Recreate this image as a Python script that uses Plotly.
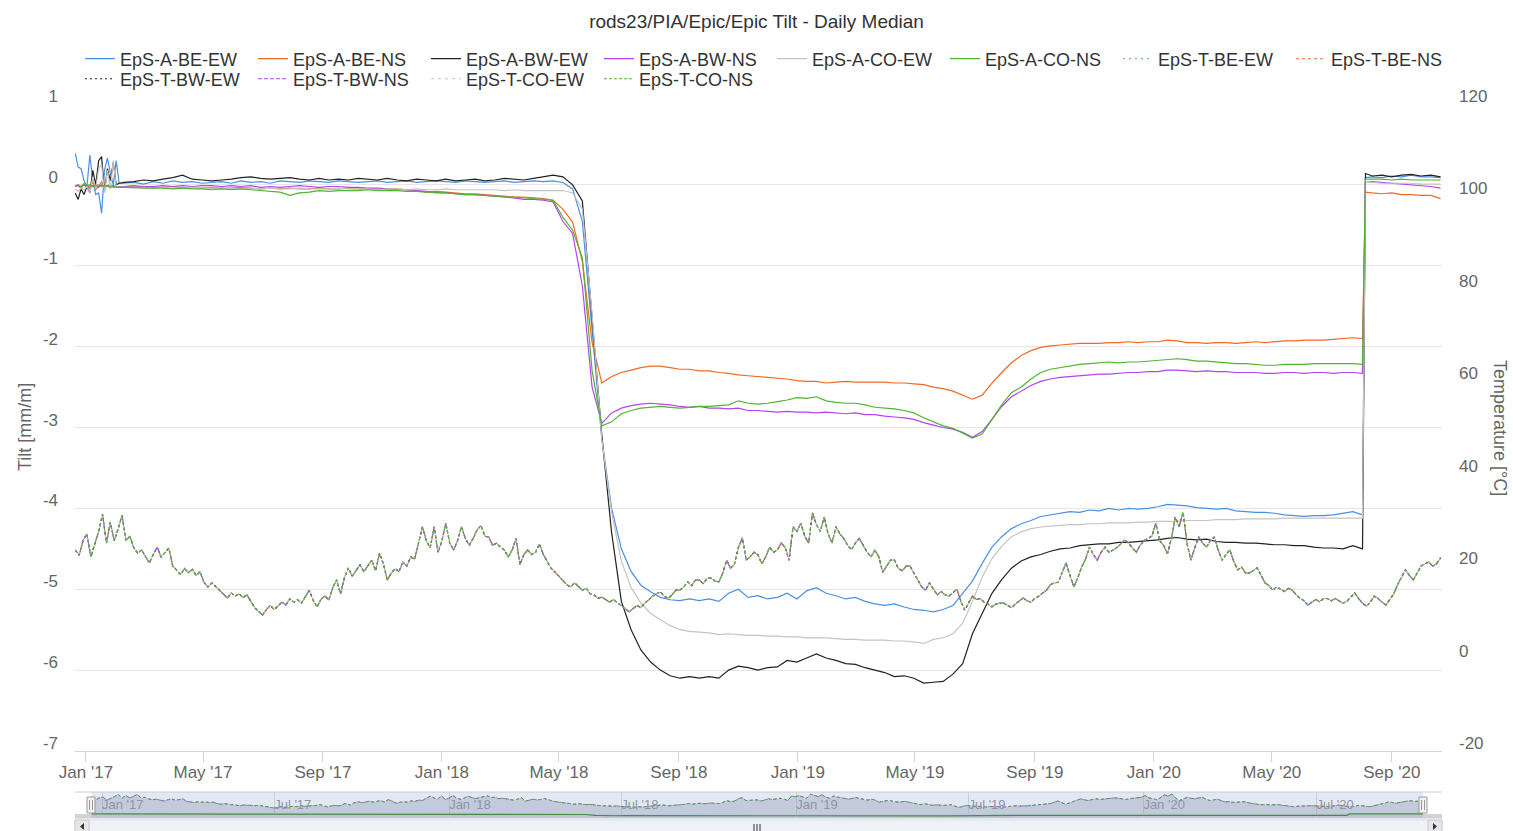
import pandas as pd
import plotly.graph_objects as go

# ---------------- categories (day offsets from the first date) ----------------
START_DATE = "2016-12-21"
a_day_offsets = list(range(0, 46, 3)) + list(range(50, 1321, 10)) + [1323] + list(range(1330, 1401, 10))
t_day_offsets = list(range(0, 1401, 4))

# ---------------- axis tick labels ----------------
tilt_ticks = [-7, -6, -5, -4, -3, -2, -1, 0, 1]
tilt_tick_text = ["-7", "-6", "-5", "-4", "-3", "-2", "-1", "0", "1"]
temp_ticks = [-20, 0, 20, 40, 60, 80, 100, 120]
temp_tick_text = ["-20", "0", "20", "40", "60", "80", "100", "120"]

# ---------------- tilt series [mm/m] (left axis) ----------------
a_be_ew = [0.39, 0.22, 0.20, 0.05, -0.02, 0.37, 0.05, -0.12, -0.10, -0.35, 0.18, 0.33, 0.15, 0.00, 0.30, 0.02,
           0.02, 0.03, 0.01, 0.04, 0.02, 0.05, 0.03, 0.04, 0.02, 0.03, 0.04, 0.02, 0.05, 0.03, 0.04, 0.02, 0.05, 0.04, 0.03, 0.05,
           0.04, 0.03, 0.05, 0.04, 0.03, 0.04, 0.05, 0.03, 0.04, 0.05, 0.03, 0.04, 0.05, 0.04, 0.03, 0.05, 0.04, 0.03, 0.04, 0.05,
           0.03, 0.04, 0.05, 0.04, 0.05,
           0.03, -0.05, -0.45, -1.75, -3.15, -4.00, -4.50, -4.78, -4.95, -5.03,
           -5.10, -5.13, -5.14, -5.12, -5.14, -5.12, -5.15, -5.05, -5.00, -5.10,
           -5.08, -5.12, -5.10, -5.05, -5.12, -5.02, -4.98, -5.05, -5.08, -5.12,
           -5.10, -5.15, -5.18, -5.20, -5.18, -5.22, -5.25, -5.26, -5.28, -5.25,
           -5.20, -5.05, -4.90, -4.68, -4.48, -4.35, -4.25, -4.19, -4.15, -4.10,
           -4.08, -4.06, -4.04, -4.05, -4.02, -4.03, -4.00, -4.02, -4.00, -4.01,
           -4.00, -3.98, -3.95, -3.96, -3.97, -3.99, -4.00, -4.01, -4.00, -4.03,
           -4.04, -4.05, -4.05, -4.06, -4.08, -4.09, -4.10, -4.09, -4.09, -4.08,
           -4.06, -4.04, -4.08,
           0.09, 0.10, 0.09, 0.11, 0.10, 0.12, 0.10, 0.10, 0.09]

a_be_ns = [-0.02, 0.00, -0.05, 0.02, -0.04, -0.01, 0.03, -0.06, -0.02, 0.04, -0.03, -0.01, 0.00, -0.03, -0.02, -0.02,
           -0.02, -0.03, -0.02, -0.03, -0.03, -0.02, -0.04, -0.03, -0.04, -0.03, -0.04, -0.04, -0.03, -0.04, -0.05,
           -0.04, -0.05, -0.04, -0.05, -0.05, -0.04, -0.05, -0.05, -0.04, -0.05, -0.05, -0.06, -0.05, -0.05, -0.06,
           -0.07, -0.09, -0.08, -0.09, -0.10, -0.11, -0.11, -0.12, -0.13, -0.14, -0.15, -0.15, -0.16, -0.17, -0.19,
           -0.30, -0.46, -0.95, -1.95, -2.45, -2.37, -2.32, -2.29, -2.26, -2.24,
           -2.24, -2.26, -2.28, -2.28, -2.30, -2.30, -2.32, -2.33, -2.35, -2.36,
           -2.37, -2.38, -2.39, -2.40, -2.42, -2.43, -2.43, -2.45, -2.44, -2.43,
           -2.44, -2.44, -2.44, -2.44, -2.45, -2.45, -2.46, -2.47, -2.50, -2.52,
           -2.55, -2.60, -2.65, -2.60, -2.45, -2.32, -2.20, -2.11, -2.05, -2.01,
           -1.99, -1.98, -1.97, -1.96, -1.96, -1.96, -1.95, -1.95, -1.94, -1.95,
           -1.94, -1.94, -1.92, -1.93, -1.95, -1.95, -1.96, -1.95, -1.95, -1.96,
           -1.95, -1.94, -1.95, -1.94, -1.93, -1.93, -1.92, -1.92, -1.92, -1.91,
           -1.90, -1.89, -1.90,
           -0.09, -0.10, -0.11, -0.10, -0.12, -0.12, -0.13, -0.13, -0.17]

a_bw_ew = [-0.10, -0.18, -0.05, -0.12, -0.02, -0.10, 0.18, 0.00, 0.30, 0.35, -0.08, 0.20, 0.05, 0.28, 0.00, 0.02,
           0.03, 0.04, 0.06, 0.05, 0.07, 0.09, 0.12, 0.07, 0.06, 0.05, 0.06, 0.07, 0.09, 0.10, 0.08,
           0.07, 0.08, 0.09, 0.07, 0.06, 0.08, 0.06, 0.07, 0.06, 0.08, 0.07, 0.06, 0.08, 0.06, 0.05,
           0.07, 0.06, 0.05, 0.07, 0.05, 0.06, 0.07, 0.05, 0.06, 0.08, 0.07, 0.06, 0.08, 0.10, 0.12,
           0.10, 0.00, -0.20, -1.60, -3.10, -4.30, -5.15, -5.50, -5.75, -5.90,
           -6.00, -6.07, -6.10, -6.08, -6.10, -6.08, -6.10, -6.00, -5.95, -5.97,
           -6.00, -5.97, -5.96, -5.88, -5.90, -5.85, -5.80, -5.85, -5.88, -5.92,
           -5.93, -5.97, -6.00, -6.03, -6.08, -6.07, -6.10, -6.16, -6.15, -6.14,
           -6.05, -5.92, -5.55, -5.30, -5.05, -4.88, -4.74, -4.65, -4.60, -4.57,
           -4.53, -4.50, -4.49, -4.46, -4.45, -4.44, -4.44, -4.42, -4.42, -4.41,
           -4.40, -4.39, -4.37, -4.36, -4.38, -4.39, -4.38, -4.41, -4.42, -4.42,
           -4.43, -4.43, -4.44, -4.45, -4.45, -4.46, -4.46, -4.48, -4.49, -4.49,
           -4.50, -4.46, -4.50,
           0.14, 0.11, 0.12, 0.10, 0.12, 0.13, 0.11, 0.12, 0.10]

a_bw_ns = [-0.02, -0.01, -0.03, 0.00, -0.02, -0.04, -0.01, -0.02, -0.03, 0.00, -0.02, -0.01, -0.02, -0.01, -0.02, -0.02,
           -0.02, -0.01, -0.02, -0.02, -0.01, -0.02, -0.01, -0.02, -0.01, -0.01, -0.02, -0.01, -0.02, -0.01, -0.03,
           -0.02, -0.03, -0.02, -0.01, -0.02, -0.03, -0.02, -0.02, -0.03, -0.03, -0.04, -0.04, -0.05, -0.06, -0.06,
           -0.07, -0.08, -0.10, -0.10, -0.11, -0.12, -0.12, -0.13, -0.14, -0.15, -0.16, -0.18, -0.18, -0.19, -0.21,
           -0.45, -0.60, -1.25, -2.50, -2.95, -2.82, -2.76, -2.73, -2.71, -2.70,
           -2.71, -2.72, -2.74, -2.75, -2.74, -2.76, -2.76, -2.77, -2.76, -2.79,
           -2.79, -2.80, -2.81, -2.80, -2.81, -2.81, -2.82, -2.81, -2.82, -2.83,
           -2.82, -2.84, -2.84, -2.86, -2.87, -2.88, -2.90, -2.94, -2.97, -3.00,
           -3.02, -3.06, -3.12, -3.05, -2.90, -2.74, -2.62, -2.55, -2.48, -2.43,
           -2.40, -2.38, -2.37, -2.36, -2.35, -2.34, -2.34, -2.33, -2.32, -2.32,
           -2.31, -2.31, -2.29, -2.29, -2.30, -2.31, -2.30, -2.31, -2.31, -2.32,
           -2.32, -2.32, -2.33, -2.33, -2.32, -2.32, -2.33, -2.32, -2.32, -2.33,
           -2.32, -2.32, -2.33,
           0.03, 0.04, 0.03, 0.02, 0.01, 0.00, -0.01, -0.02, -0.04]

a_co_ew = [-0.05, -0.08, -0.04, -0.06, -0.02, -0.10, 0.10, -0.05, 0.20, 0.25, -0.10, 0.18, -0.05, 0.30, -0.02, -0.03,
           -0.03, -0.04, -0.03, -0.04, -0.03, -0.04, -0.04, -0.03, -0.04, -0.04, -0.04, -0.05, -0.04, -0.04, -0.05,
           -0.04, -0.05, -0.05, -0.04, -0.05, -0.05, -0.05, -0.04, -0.05, -0.05, -0.05, -0.06, -0.05, -0.05, -0.06,
           -0.05, -0.06, -0.06, -0.05, -0.06, -0.06, -0.06, -0.06, -0.06, -0.07, -0.06, -0.07, -0.07, -0.07, -0.07,
           -0.07, -0.10, -0.30, -1.60, -3.15, -4.05, -4.65, -4.98, -5.17, -5.30,
           -5.38, -5.45, -5.50, -5.52, -5.53, -5.54, -5.56, -5.55, -5.56, -5.57,
           -5.57, -5.58, -5.58, -5.59, -5.59, -5.60, -5.60, -5.60, -5.61, -5.62,
           -5.62, -5.63, -5.63, -5.63, -5.64, -5.64, -5.65, -5.67, -5.62, -5.60,
           -5.55, -5.42, -5.15, -4.85, -4.62, -4.47, -4.35, -4.29, -4.25, -4.23,
           -4.22, -4.21, -4.20, -4.20, -4.19, -4.19, -4.18, -4.18, -4.18, -4.17,
           -4.17, -4.16, -4.16, -4.16, -4.15, -4.15, -4.15, -4.14, -4.14, -4.14,
           -4.13, -4.13, -4.13, -4.13, -4.12, -4.12, -4.12, -4.12, -4.12, -4.12,
           -4.12, -4.12, -4.12,
           0.03, 0.03, 0.02, 0.02, 0.02, 0.02, 0.01, 0.01, 0.01]

a_co_ns = [-0.01, 0.00, -0.02, 0.01, -0.01, 0.00, -0.02, -0.01, 0.00, -0.02, -0.01, -0.02, -0.03, -0.02, -0.03, -0.03,
           -0.03, -0.03, -0.04, -0.04, -0.04, -0.05, -0.04, -0.05, -0.05, -0.06, -0.05, -0.06, -0.05, -0.06, -0.07,
           -0.08, -0.09, -0.13, -0.10, -0.09, -0.07, -0.08, -0.07, -0.07, -0.07, -0.06, -0.07, -0.07, -0.07, -0.08,
           -0.08, -0.09, -0.09, -0.10, -0.11, -0.12, -0.12, -0.13, -0.14, -0.15, -0.15, -0.16, -0.17, -0.18, -0.19,
           -0.40, -0.56, -0.90, -2.30, -2.98, -2.93, -2.83, -2.79, -2.76, -2.75,
           -2.74, -2.75, -2.76, -2.75, -2.74, -2.74, -2.73, -2.72, -2.67, -2.70,
           -2.71, -2.70, -2.68, -2.66, -2.63, -2.64, -2.62, -2.67, -2.69, -2.70,
           -2.70, -2.72, -2.75, -2.76, -2.77, -2.79, -2.82, -2.88, -2.93, -2.98,
           -3.01, -3.07, -3.13, -3.08, -2.90, -2.72, -2.57, -2.50, -2.40, -2.32,
           -2.28, -2.26, -2.24, -2.22, -2.21, -2.20, -2.19, -2.20, -2.19, -2.19,
           -2.18, -2.17, -2.16, -2.15, -2.16, -2.18, -2.18, -2.19, -2.20, -2.21,
           -2.21, -2.22, -2.23, -2.23, -2.22, -2.22, -2.22, -2.21, -2.21, -2.21,
           -2.21, -2.21, -2.22,
           0.07, 0.07, 0.07, 0.06, 0.07, 0.06, 0.06, 0.06, 0.06]

# ---------------- temperature [°C] (right axis), every 4 days; the six T sensors overlap ----------------
temperature_c = [
    23.5, 22.4, 25.5, 27.0, 22.0, 24.5, 27.5, 31.2, 25.0, 29.5,
    25.5, 28.0, 31.0, 25.5, 26.5, 24.0, 22.8, 23.5, 22.0, 20.7,
    22.5, 24.1, 22.0, 23.0, 23.9, 20.0, 19.0, 18.2, 19.5, 18.6,
    19.3, 18.0, 18.8, 16.5, 15.5, 16.4, 15.6, 14.8, 14.0, 13.1,
    14.2, 13.5, 14.0, 13.2, 13.8, 12.4, 11.0, 10.2, 9.4, 10.6,
    11.5, 10.6, 11.4, 12.2, 11.6, 12.9, 12.2, 12.7, 12.0, 13.5,
    14.8, 12.6, 11.2, 12.8, 13.6, 12.6, 15.3, 17.0, 14.0, 17.5,
    19.6, 17.8, 19.0, 20.3, 18.8, 20.0, 21.3, 19.0, 22.8, 20.5,
    17.0, 18.5, 19.5, 18.8, 20.9, 20.0, 22.0, 21.5, 25.0, 28.5,
    25.5, 24.0, 28.5, 23.0, 25.5, 29.3, 25.0, 23.5, 25.5, 28.5,
    26.0, 24.5, 26.0, 27.8, 28.8, 26.5, 26.3, 24.5, 25.0, 24.1,
    23.5, 22.0, 23.5, 26.0, 20.3, 22.5, 23.5, 22.5, 23.0, 24.8,
    22.5, 20.9, 19.5, 18.7, 17.8, 17.0, 16.0, 15.5, 16.4, 15.6,
    14.8, 15.2, 14.0, 13.8, 13.0, 13.3, 12.8, 12.2, 12.8, 12.0,
    11.5, 10.8, 10.1, 10.8, 11.5, 11.0, 12.0, 12.7, 13.5, 14.0,
    14.4, 13.5, 13.0, 13.8, 14.8, 14.8, 15.5, 16.6, 15.8, 17.0,
    17.0, 16.2, 17.4, 17.4, 16.8, 16.6, 18.5, 21.3, 19.5, 20.5,
    24.0, 26.1, 21.3, 22.0, 23.0, 22.5, 20.5, 22.0, 24.1, 23.0,
    23.5, 25.0, 24.0, 21.3, 28.5, 27.5, 29.3, 26.5, 25.0, 31.5,
    29.0, 27.5, 30.6, 27.0, 25.0, 28.5, 27.0, 26.0, 24.5, 23.5,
    25.0, 26.0, 24.5, 23.0, 22.0, 23.5, 22.0, 18.7, 20.0, 21.3,
    21.3, 19.5, 19.0, 20.0, 20.0, 18.5, 17.0, 15.5, 14.8, 16.4,
    15.0, 13.8, 14.5, 13.8, 13.5, 14.2, 15.0, 12.5, 10.5, 12.0,
    13.5, 12.8, 13.0, 12.2, 11.8, 11.2, 11.8, 12.0, 12.0, 11.5,
    11.0, 11.8, 12.5, 13.1, 12.5, 12.2, 13.0, 13.5, 14.2, 14.8,
    16.0, 16.4, 16.5, 18.5, 20.7, 18.0, 15.5, 17.5, 19.8, 21.5,
    24.1, 22.5, 21.3, 23.0, 24.1, 23.0, 23.5, 24.0, 24.8, 25.7,
    25.0, 24.0, 23.0, 24.5, 25.5, 26.0, 26.5, 29.3, 25.5, 24.5,
    22.7, 26.0, 30.6, 28.5, 31.7, 25.0, 21.3, 24.0, 26.3, 25.0,
    24.1, 25.5, 26.3, 23.5, 21.3, 22.5, 23.5, 21.0, 19.2, 19.8,
    18.5, 18.5, 19.0, 19.6, 18.0, 16.4, 15.8, 14.8, 15.5, 15.0,
    14.5, 15.2, 14.8, 13.8, 13.0, 12.5, 11.6, 12.2, 12.8, 12.3,
    13.0, 13.0, 12.5, 13.0, 12.5, 12.0, 12.4, 13.2, 14.2, 13.0,
    12.0, 11.3, 12.2, 13.5, 13.0, 12.2, 11.6, 12.8, 14.0, 16.0,
    17.5, 19.2, 18.0, 17.0, 18.5, 20.0, 20.5, 20.9, 20.0, 20.5,
    21.8]

a_names = ["EpS-A-BE-EW", "EpS-A-BE-NS", "EpS-A-BW-EW", "EpS-A-BW-NS", "EpS-A-CO-EW", "EpS-A-CO-NS"]
t_names = ["EpS-T-BE-EW", "EpS-T-BE-NS", "EpS-T-BW-EW", "EpS-T-BW-NS", "EpS-T-CO-EW", "EpS-T-CO-NS"]
a_values = [a_be_ew, a_be_ns, a_bw_ew, a_bw_ns, a_co_ew, a_co_ns]

# ---------------- style ----------------
COLORS = ["#4a90e2", "#f26a21", "#222222", "#b443f0", "#c4c4c4", "#4fb52c"]
T_DASHES = ["2px,4px", "3px,3px", "2px,3px", "4px,2px", "3px,4px", "3px,2px"]
W, H = 1513, 831
FONT = "Liberation Sans, Arial, sans-serif"


def px(x):
    return x / W


def py(y):
    return 1 - y / H


start = pd.Timestamp(START_DATE)
a_dates = start + pd.to_timedelta(a_day_offsets, unit="D")
t_dates = start + pd.to_timedelta(t_day_offsets, unit="D")

fig = go.Figure()

for i, (name, vals) in enumerate(zip(a_names, a_values)):
    fig.add_trace(go.Scatter(x=a_dates, y=vals, name=name, mode="lines",
                             line=dict(color=COLORS[i], width=1.2),
                             xaxis="x", yaxis="y", legend="legend"))

for i, name in enumerate(t_names):
    fig.add_trace(go.Scatter(x=t_dates, y=temperature_c, name=name, mode="lines",
                             line=dict(color=COLORS[i], width=1.1, dash=T_DASHES[i]),
                             xaxis="x", yaxis="y2",
                             legend="legend" if i < 2 else "legend2"))

# navigator series
fig.add_trace(go.Scatter(x=t_dates, y=temperature_c, mode="lines", showlegend=False, hoverinfo="skip",
                         line=dict(color=COLORS[3], width=1, dash="3px,3px"),
                         fill="tozeroy", fillcolor="rgba(140,150,170,0.35)",
                         xaxis="x2", yaxis="y3"))
fig.add_trace(go.Scatter(x=t_dates, y=temperature_c, mode="lines", showlegend=False, hoverinfo="skip",
                         line=dict(color=COLORS[5], width=1, dash="3px,2px"),
                         xaxis="x2", yaxis="y3"))
fig.add_trace(go.Scatter(x=a_dates, y=a_co_ns, mode="lines", showlegend=False, hoverinfo="skip",
                         line=dict(color="#3f8f2a", width=1.2),
                         xaxis="x2", yaxis="y3"))

main_dom_x = [px(75), px(1442)]

shapes = [
    dict(type="rect", xref="paper", yref="y3", x0=px(75), x1=px(1442), y0=-6.5, y1=0,
         fillcolor="rgba(100,110,130,0.30)", line=dict(width=0), layer="below"),
    dict(type="rect", xref="x2", yref="paper", x0="2016-12-21", x1="2020-10-21", y0=py(818), y1=py(792),
         fillcolor="rgba(102,133,194,0.18)", line=dict(width=0), layer="above"),
    dict(type="line", xref="paper", yref="paper", x0=px(75), x1=px(1442), y0=py(792), y1=py(792),
         line=dict(color="#cccccc", width=1)),
    dict(type="line", xref="paper", yref="paper", x0=px(75), x1=px(1442), y0=py(818), y1=py(818),
         line=dict(color="#cccccc", width=1)),
    dict(type="rect", xref="paper", yref="paper", x0=px(75), x1=px(1442), y0=py(834), y1=py(820),
         fillcolor="#f2f2f2", line=dict(color="#e0e0e0", width=1)),
    dict(type="rect", xref="paper", yref="paper", x0=px(89), x1=px(1428), y0=py(834), y1=py(820),
         fillcolor="#eef1f6", line=dict(color="#dde2ea", width=1)),
    dict(type="rect", xref="paper", yref="paper", x0=px(75), x1=px(89), y0=py(834), y1=py(820),
         fillcolor="#e6e6e6", line=dict(color="#cccccc", width=1)),
    dict(type="rect", xref="paper", yref="paper", x0=px(1428), x1=px(1442), y0=py(834), y1=py(820),
         fillcolor="#e6e6e6", line=dict(color="#cccccc", width=1)),
    dict(type="path", xref="paper", yref="paper",
         path=f"M{px(84)},{py(823)} L{px(84)},{py(830)} L{px(80)},{py(826.5)} Z",
         fillcolor="#333333", line=dict(width=0)),
    dict(type="path", xref="paper", yref="paper",
         path=f"M{px(1433)},{py(823)} L{px(1433)},{py(830)} L{px(1437)},{py(826.5)} Z",
         fillcolor="#333333", line=dict(width=0)),
]
for gx in (754, 757, 760):
    shapes.append(dict(type="line", xref="paper", yref="paper", x0=px(gx), x1=px(gx), y0=py(831), y1=py(824),
                       line=dict(color="#333333", width=1)))
for hx in (91, 1423):
    shapes.append(dict(type="rect", xref="paper", yref="paper", x0=px(hx - 4), x1=px(hx + 4), y0=py(813), y1=py(797),
                       fillcolor="#f2f2f2", line=dict(color="#999999", width=1)))
    for lx in (hx - 1.5, hx + 1.5):
        shapes.append(dict(type="line", xref="paper", yref="paper", x0=px(lx), x1=px(lx), y0=py(810), y1=py(800),
                           line=dict(color="#999999", width=1)))

annotations = [
    dict(text="Tilt [mm/m]", x=px(25), y=py(427), xref="paper", yref="paper", showarrow=False,
         xanchor="center", yanchor="middle",
         textangle=-90, font=dict(size=18, color="#666666", family=FONT)),
    dict(text="Temperature [°C]", x=px(1500), y=py(428), xref="paper", yref="paper", showarrow=False,
         xanchor="center", yanchor="middle",
         textangle=90, font=dict(size=18, color="#666666", family=FONT)),
]

legend_common = dict(orientation="h", xanchor="left", yanchor="middle", bgcolor="rgba(0,0,0,0)",
                     font=dict(size=18, color="#333333", family=FONT),
                     entrywidth=128, entrywidthmode="pixels", itemwidth=30,
                     itemclick=False, itemdoubleclick=False)

fig.update_layout(
    width=W, height=H,
    margin=dict(l=0, r=0, t=0, b=0, autoexpand=False),
    paper_bgcolor="white", plot_bgcolor="white",
    font=dict(family=FONT, color="#666666"),
    title=dict(text="rods23/PIA/Epic/Epic Tilt - Daily Median", x=0.5, xanchor="center",
               y=py(21), yanchor="middle", font=dict(size=19, color="#333333", family=FONT)),
    showlegend=True,
    legend=dict(x=px(80), y=py(59), **legend_common),
    legend2=dict(x=px(80), y=py(79), **legend_common),
    xaxis=dict(domain=main_dom_x, anchor="y", type="date", automargin=False,
               range=["2016-12-20 18:00", "2020-10-22 12:00"],
               tick0="2017-01-01", dtick="M4", tickformat="%b '%y",
               ticks="outside", ticklen=10, tickcolor="#ccd6eb", showline=True, linecolor="#ccd6eb",
               ticklabelstandoff=-4,
               showgrid=False, zeroline=False, tickfont=dict(size=17, color="#666666")),
    yaxis=dict(domain=[py(751), py(104)], anchor="x", range=[-7, 1], automargin=False,
               tickmode="array", tickvals=tilt_ticks, ticktext=tilt_tick_text,
               showgrid=True, gridcolor="#e6e6e6", zeroline=False, showline=False, ticks="",
               ticklabelposition="outside top", ticklabelstandoff=16, ticklabelshift=4,
               tickfont=dict(size=17, color="#666666")),
    yaxis2=dict(overlaying="y", side="right", anchor="x", range=[-20, 120], automargin=False,
                tickmode="array", tickvals=temp_ticks, ticktext=temp_tick_text,
                showgrid=False, zeroline=False, showline=False, ticks="",
                ticklabelposition="outside top", ticklabelstandoff=16, ticklabelshift=4,
                tickfont=dict(size=17, color="#666666")),
    xaxis2=dict(domain=main_dom_x, anchor="y3", type="date", automargin=False,
                range=["2016-12-03 14:00", "2020-11-10"],
                tick0="2017-01-01", dtick="M6", tickformat="%b '%y",
                ticks="", ticklabelposition="inside right", showgrid=True, gridcolor="#e0e0e0",
                showline=False, zeroline=False, tickfont=dict(size=13, color="#999999")),
    yaxis3=dict(domain=[py(818), py(792)], anchor="x2", range=[-6.5, 35], automargin=False,
                showticklabels=False, showgrid=False, zeroline=False, showline=False, ticks=""),
    shapes=shapes,
    annotations=annotations,
    hovermode=False,
)

fig.write_html("out.html", config={"displayModeBar": False},
               post_script="document.body.style.margin='0';document.body.style.overflow='hidden';")
